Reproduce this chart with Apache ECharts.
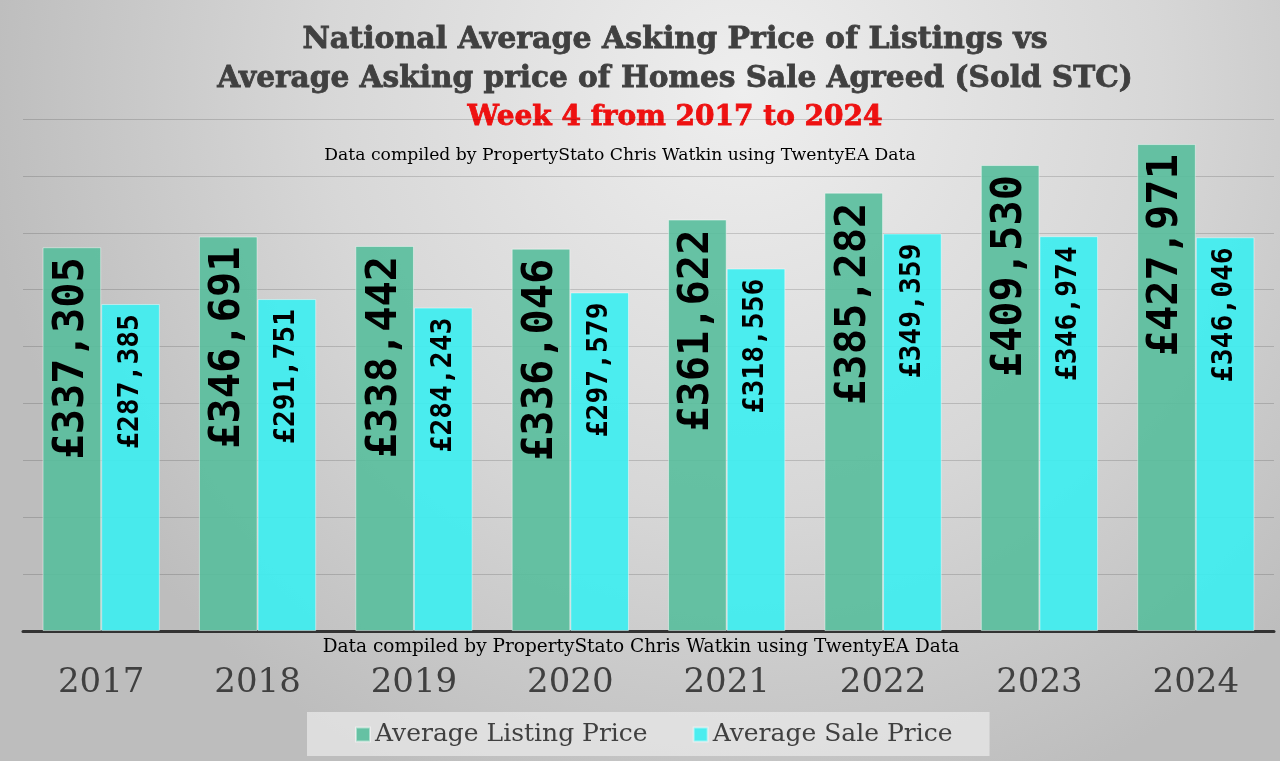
<!DOCTYPE html>
<html>
<head>
<meta charset="utf-8">
<script src="https://cdn.jsdelivr.net/npm/echarts@6/dist/echarts.min.js"></script>
<style>
html,body{margin:0;padding:0;width:1280px;height:761px;overflow:hidden;}
#c{width:1280px;height:761px;}
</style>
</head>
<body>
<div id="c"></div>
<script>
const years = ['2017','2018','2019','2020','2021','2022','2023','2024'];
const listingPrice = [337305, 346691, 338442, 336046, 361622, 385282, 409530, 427971];
const salePrice = [287385, 291751, 284243, 297579, 318556, 349359, 346974, 346046];
const seriesNames = ['Average Listing Price', 'Average Sale Price'];
const titleLine1 = 'National Average Asking Price of Listings vs';
const titleLine2 = 'Average Asking price of Homes Sale Agreed (Sold STC)';
const titleRed = 'Week 4 from 2017 to 2024';
const creditText = 'Data compiled by PropertyStato Chris Watkin using TwentyEA Data';

function money(v){
  return '£' + String(v).replace(/\B(?=(\d{3})+(?!\d))/g, ',');
}

const chart = echarts.init(document.getElementById('c'));
const serif = '"DejaVu Serif", serif';
const mono = '"DejaVu Sans Mono", monospace';

chart.setOption({
  backgroundColor: {
    type: 'radial', x: 0.58, y: 0.12, r: 1.0,
    colorStops: [
      {offset: 0, color: '#eeeeee'},
      {offset: 0.55, color: '#d7d7d7'},
      {offset: 1, color: '#bdbdbd'}
    ]
  },
  animation: false,
  grid: {left: 23, right: 6, top: 119, bottom: 130},
  xAxis: {
    type: 'category',
    data: years,
    axisLine: {lineStyle: {color: '#333', width: 3}},
    axisTick: {show: false},
    axisLabel: {fontFamily: serif, fontSize: 34, color: '#404040', margin: 35}
  },
  yAxis: {
    type: 'value',
    min: 0, max: 450000, interval: 50000,
    axisLabel: {show: false},
    axisLine: {show: false},
    axisTick: {show: false},
    splitLine: {lineStyle: {color: 'rgba(0,0,0,0.15)', width: 1}}
  },
  legend: {
    left: 307, top: 712,
    padding: [10, 37, 9, 48],
    backgroundColor: 'rgba(235,235,235,0.7)',
    itemWidth: 14, itemHeight: 14, itemGap: 45,
    icon: 'rect',
    textStyle: {fontFamily: serif, fontSize: 25, color: '#404040'},
    data: seriesNames
  },
  series: [
    {
      name: seriesNames[0],
      type: 'bar',
      data: listingPrice,
      barGap: '0%',
      barCategoryGap: '25%',
      itemStyle: {color: 'rgba(88,190,156,0.9)', borderColor: 'rgba(255,255,255,0.45)', borderWidth: 1},
      label: {
        show: true, position: 'insideTop', distance: 10, rotate: 90,
        align: 'right', verticalAlign: 'middle',
        formatter: p => money(p.value),
        fontFamily: mono, fontWeight: 'bold', fontSize: 42, color: '#000'
      }
    },
    {
      name: seriesNames[1],
      type: 'bar',
      data: salePrice,
      itemStyle: {color: 'rgba(62,238,240,0.92)', borderColor: 'rgba(255,255,255,0.45)', borderWidth: 1},
      label: {
        show: true, position: 'insideTop', distance: 10, rotate: 90,
        align: 'right', verticalAlign: 'middle',
        formatter: p => money(p.value),
        fontFamily: mono, fontWeight: 'bold', fontSize: 28, color: '#000'
      }
    }
  ],
  graphic: [
    {type: 'text', x: 675, y: 40, style: {text: titleLine1, textAlign: 'center', textVerticalAlign: 'middle', font: 'bold 30px "DejaVu Serif", serif', fill: '#404040', stroke: '#404040', lineWidth: 0.8}},
    {type: 'text', x: 675, y: 79, style: {text: titleLine2, textAlign: 'center', textVerticalAlign: 'middle', font: 'bold 29.6px "DejaVu Serif", serif', fill: '#404040', stroke: '#404040', lineWidth: 0.8}},
    {type: 'text', x: 675, y: 118, style: {text: titleRed, textAlign: 'center', textVerticalAlign: 'middle', font: 'bold 28px "DejaVu Serif", serif', fill: '#ee1111', stroke: '#ee1111', lineWidth: 0.8}},
    {type: 'text', x: 620, y: 156, style: {text: creditText, textAlign: 'center', textVerticalAlign: 'middle', font: '17.2px "DejaVu Serif", serif', fill: '#000'}},
    {type: 'text', x: 641, y: 647, style: {text: creditText, textAlign: 'center', textVerticalAlign: 'middle', font: '18.5px "DejaVu Serif", serif', fill: '#000'}}
  ]
});
</script>
</body>
</html>
